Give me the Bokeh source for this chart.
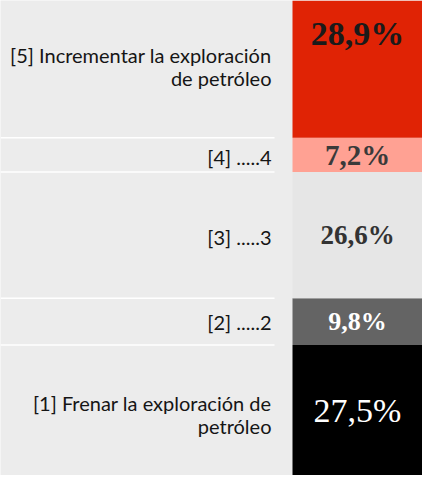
from bokeh.plotting import figure
from bokeh.models import Range1d, ColumnDataSource
from bokeh.core.properties import value
from bokeh.embed import file_html
from bokeh.resources import INLINE

# ---- data (bottom to top) ----
labels = [
    "[1] Frenar la exploración de\npetróleo",
    "[2] .....2",
    "[3] .....3",
    "[4] .....4",
    "[5] Incrementar la exploración\nde petróleo",
]
values = [27.5, 9.8, 26.6, 7.2, 28.9]
value_texts = ["27,5%", "9,8%", "26,6%", "7,2%", "28,9%"]

# ---- styles ----
colors = ["#000000", "#646464", "#e6e6e6", "#ffa193", "#e02305"]
text_colors = ["#ffffff", "#ffffff", "#333333", "#3a3a3a", "#1a1a1a"]
text_sizes = ["34px", "26px", "27px", "29px", "34px"]
text_styles = ["normal", "bold", "bold", "bold", "bold"]
y_offsets = [0, 0, 0, 0, -36]
label_offsets = [4, 0, 2, 2, -3]
BG = "#ececec"

bottoms, tops = [], []
acc = 0.0
for v in values:
    bottoms.append(acc)
    acc += v
    tops.append(acc)
mids = [(b + t) / 2 for b, t in zip(bottoms, tops)]

W, H = 422, 475
p = figure(width=W, height=H, output_backend="svg", toolbar_location=None,
           x_range=Range1d(0, W), y_range=Range1d(0, acc),
           x_axis_location=None, y_axis_location=None, min_border=0)
p.grid.visible = False
p.outline_line_color = None
p.background_fill_color = BG
p.border_fill_color = BG

BAR_L, BAR_R = 292, W
src = ColumnDataSource(dict(bottom=bottoms, top=tops, color=colors, mid=mids,
                            label=labels, vt=value_texts, tc=text_colors,
                            ts=text_sizes, fs=text_styles, yo=y_offsets,
                            lo=label_offsets))

p.quad(left=BAR_L, right=BAR_R, bottom="bottom", top="top", fill_color="color",
       line_color=None, source=src)

# separator lines
seps = tops[:-1]
p.segment(x0=0, x1=274, y0=seps, y1=seps, line_color="#ffffff", line_width=1.5)

# left labels
p.text(x=271, y="mid", text="label", source=src, text_align="right",
       text_baseline="middle", text_font=value("Lato"), text_font_size="20px",
       text_color="#151515", text_line_height=0.95, y_offset="lo")

# value labels
p.text(x=(BAR_L + BAR_R) / 2, y="mid", text="vt", source=src, text_align="center",
       text_baseline="middle", text_font=value("Liberation Serif"),
       text_font_size="ts", text_font_style="fs", text_color="tc", y_offset="yo")

open("out.html", "w").write(file_html(p, INLINE))
